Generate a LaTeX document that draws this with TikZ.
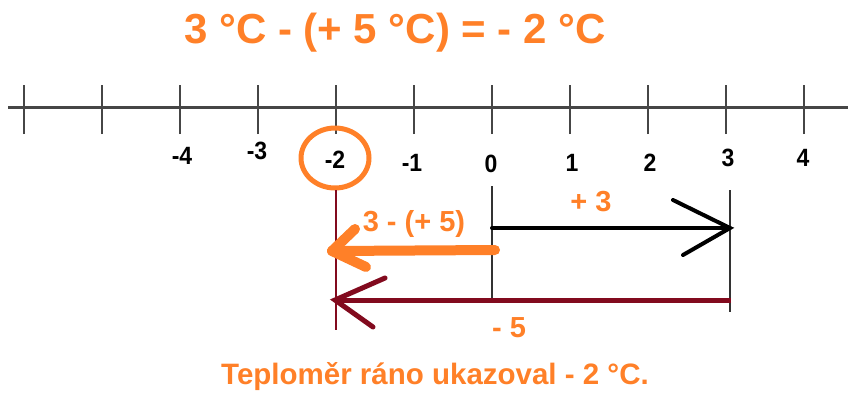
\documentclass[tikz,border=0pt]{standalone}
\usepackage{fontspec}
\usetikzlibrary{shapes.geometric}
\setmainfont{Liberation Sans}
\definecolor{myorange}{RGB}{255,128,40}
\definecolor{mymaroon}{RGB}{130,10,30}
\definecolor{axisgray}{RGB}{70,70,70}
\begin{document}
\begin{tikzpicture}[x=1pt,y=-1pt,
  numlab/.style={font=\bfseries\fontsize{25}{25}\selectfont, text=black, inner sep=0pt},
  olab/.style={font=\bfseries\fontsize{29}{29}\selectfont, text=myorange, inner sep=0pt},
  tickln/.style={axisgray, line width=2.5pt},
  guide/.style={line width=1.2pt}]
\useasboundingbox (0,0) rectangle (848,392);
% title
\node[font=\bfseries\fontsize{42}{42}\selectfont, text=myorange, inner sep=0pt] (title) at (395,33) {3 °C - (+ 5 °C) = - 2 °C};
% axis
\coordinate (axL) at (8,107);
\coordinate (axR) at (848,107);
\draw[axisgray, line width=3pt] (axL) -- (axR);
\foreach \k in {-6,...,4}{
  \coordinate (t\k) at ({492+78*\k},107);
  \draw[tickln] ([yshift=-27pt]t\k) -- ([yshift=22pt]t\k);
}
% labels
\node[numlab] (lm4) at (182,156) {\scalebox{0.92}[1]{-4}};
\node[numlab] (lm3) at (257,151) {\scalebox{0.92}[1]{-3}};
\node[numlab] (lm2) at (335,160) {\scalebox{0.92}[1]{-2}};
\node[numlab] (lm1) at (412,163) {\scalebox{0.92}[1]{-1}};
\node[numlab] (l0) at (491,164) {\scalebox{0.92}[1]{0}};
\node[numlab] (l1) at (572,163) {\scalebox{0.92}[1]{1}};
\node[numlab] (l2) at (650,163) {\scalebox{0.92}[1]{2}};
\node[numlab] (l3) at (728,158) {\scalebox{0.92}[1]{3}};
\node[numlab] (l4) at (803,158) {\scalebox{0.92}[1]{4}};
% circle
\node[draw=myorange, line width=5pt, ellipse, minimum width=68pt, minimum height=60pt, inner sep=0pt] (circ) at (335,158) {};
% vertical guides
\coordinate (vA1) at (336,190); \coordinate (vA2) at (336,330);
\coordinate (vB1) at (492,186); \coordinate (vB2) at (492,300);
\coordinate (vC1) at (730,190); \coordinate (vC2) at (730,312);
\draw[guide, mymaroon] (vA1) -- (vA2);
\draw[guide, black!80] (vB1) -- (vB2);
\draw[guide, black!80] (vC1) -- (vC2);
% black arrow
\coordinate (bS) at (492,228); \coordinate (bT) at (730,228);
\coordinate (bH1) at (673,200); \coordinate (bH2) at (683,255);
\draw[black, line width=4pt, line cap=round, line join=round] (bS) -- (bT);
\draw[black, line width=4pt, line cap=round, line join=miter] (bH1) -- (bT) -- (bH2);
% orange arrow
\coordinate (oS) at (495,250); \coordinate (oT) at (332,251);
\coordinate (oH1) at (355,229); \coordinate (oH2) at (366,267);
\draw[myorange, line width=10pt, line cap=round, line join=round] (oS) -- (oT);
\draw[myorange, line width=10pt, line cap=round, line join=round] (oH1) -- (oT) -- (oH2);
% maroon arrow
\coordinate (mS) at (731,300); \coordinate (mT) at (335,300);
\coordinate (mH1) at (385,278); \coordinate (mH2) at (373,327);
\draw[mymaroon, line width=5pt] (mS) -- (mT);
\draw[mymaroon, line width=5pt, line cap=round] (mH1) -- (mT) -- (mH2);
% labels
\node[olab] (p3) at (591,202) {+ 3};
\node[olab] (m35) at (414,224) {3 - (+ 5)};
\node[olab] (m5) at (509,328) {- 5};
\node[font=\bfseries\fontsize{29.5}{29.5}\selectfont, text=myorange, inner sep=0pt] (bottom) at (435,377) {Teploměr ráno ukazoval - 2 °C.};
\end{tikzpicture}
\end{document}
